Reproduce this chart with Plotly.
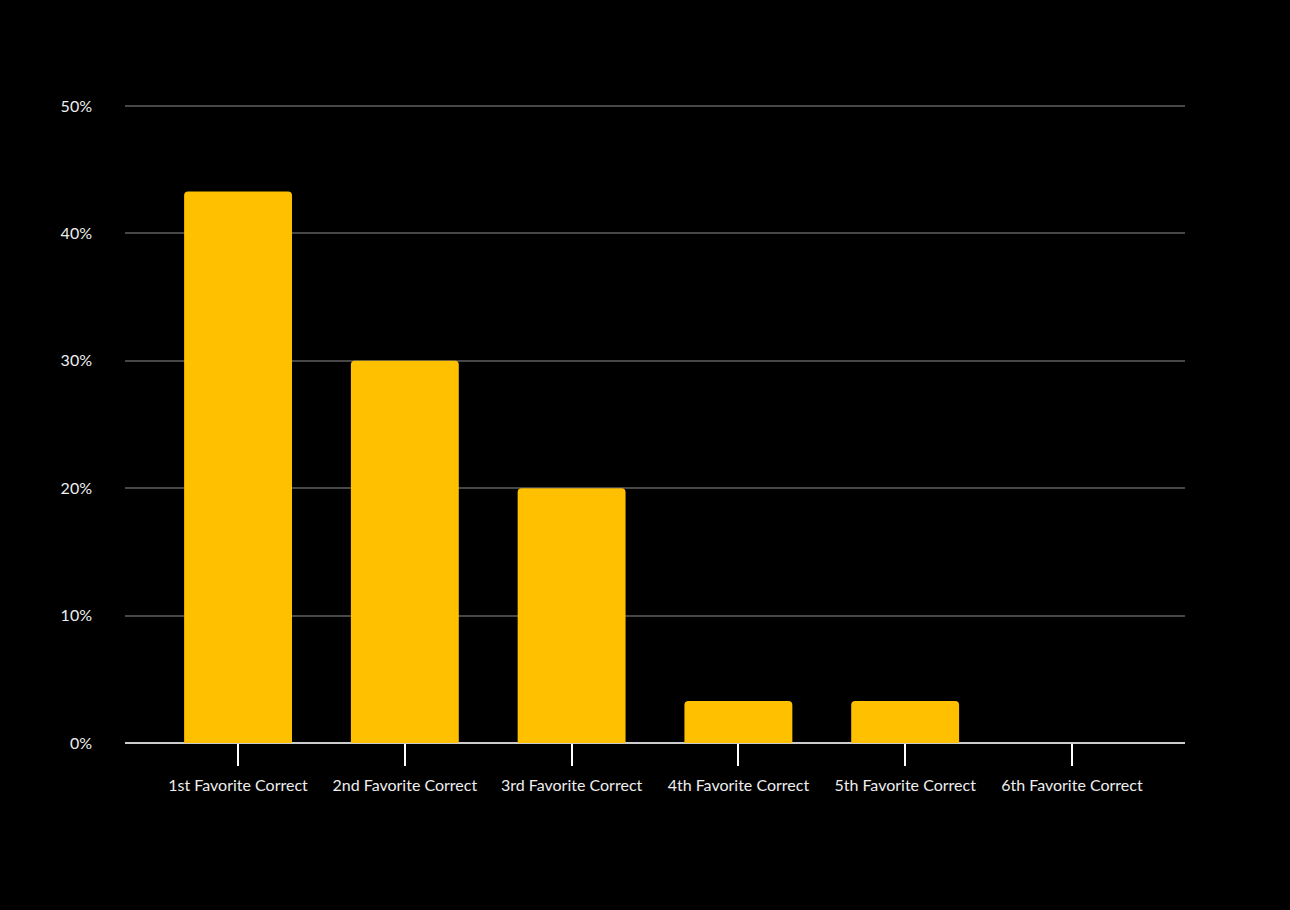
import plotly.graph_objects as go

categories = ["1st Favorite Correct", "2nd Favorite Correct", "3rd Favorite Correct",
              "4th Favorite Correct", "5th Favorite Correct", "6th Favorite Correct"]
values = [0.433, 0.30, 0.20, 0.033, 0.033, 0.0]
y_ticks = [0, 0.1, 0.2, 0.3, 0.4, 0.5]
y_tick_labels = ["0%", "10%", "20%", "30%", "40%", "50%"]

fig = go.Figure(go.Bar(
    x=list(range(len(categories))), y=values,
    marker=dict(color="#FFC000", line=dict(width=0), cornerradius=4),
    hovertemplate="%{y:.1%}<extra></extra>",
))

font = "Lato, 'Noto Sans', sans-serif"
fig.update_layout(
    width=1290, height=910,
    margin=dict(l=125, r=105, t=104, b=167),
    paper_bgcolor="#000000", plot_bgcolor="#000000",
    bargap=0.353,
    showlegend=False,
    font=dict(family=font, size=16, color="#ffffff"),
)
fig.update_xaxes(
    tickmode="array", tickvals=list(range(len(categories))), ticktext=categories,
    range=[-0.678, 5.678],
    showgrid=False, zeroline=False, showline=False,
    ticks="outside", ticklen=22, tickwidth=2, tickcolor="#ffffff",
    ticklabelstandoff=6,
    tickfont=dict(size=16, color="#eeeeee"),
)
fig.update_yaxes(
    range=[0, 0.5016], tickmode="array", tickvals=y_ticks, ticktext=y_tick_labels,
    showgrid=True, gridcolor="#474747", gridwidth=2,
    zeroline=True, zerolinecolor="#cccccc", zerolinewidth=2,
    showline=False, ticks="", ticklabelstandoff=32,
    tickfont=dict(size=16, color="#eeeeee"),
)

fig.write_html("out.html")
